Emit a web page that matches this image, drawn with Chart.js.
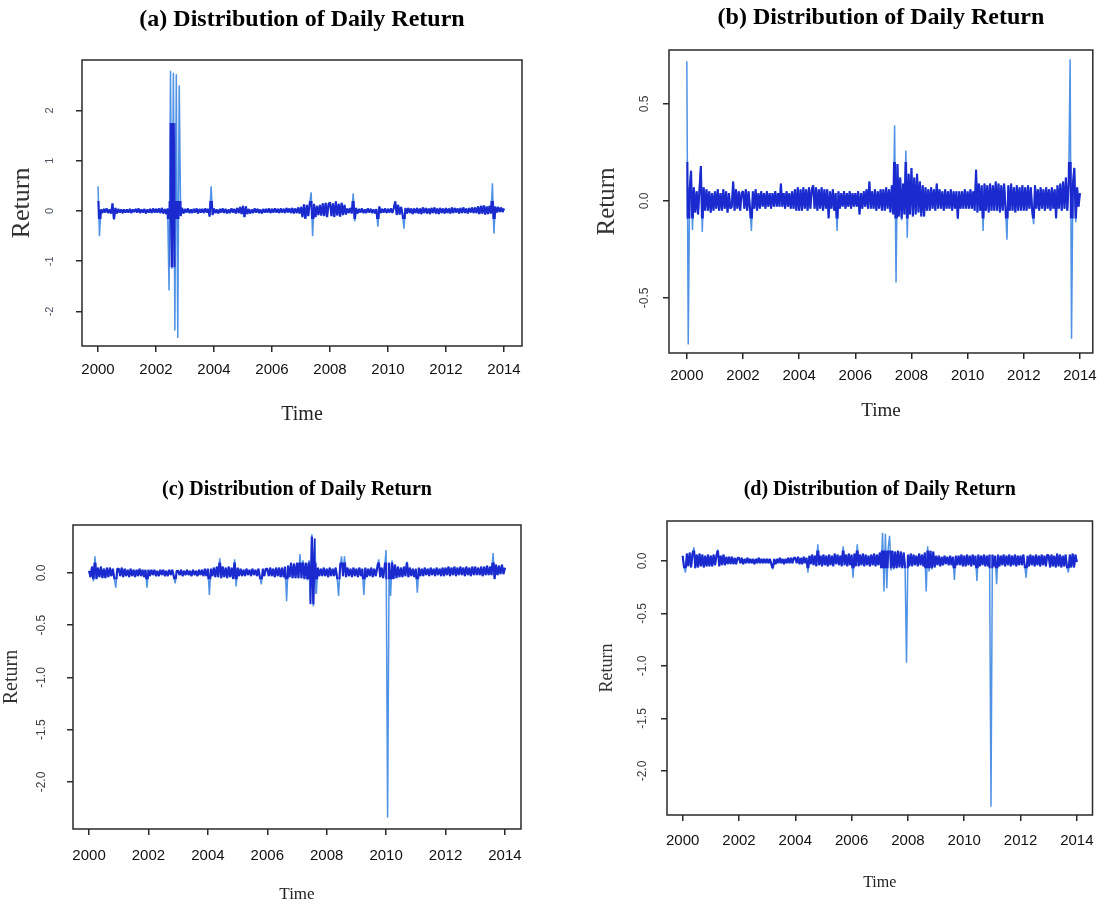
<!DOCTYPE html>
<html><head><meta charset="utf-8">
<script src="https://cdn.jsdelivr.net/npm/chart.js@4/dist/chart.umd.min.js"></script>
<style>
html,body{margin:0;padding:0;background:#fff;}
#wrap{position:relative;width:1105px;height:905px;overflow:hidden;background:#fff;}
canvas{position:absolute;}
</style></head><body>
<div id="wrap">
<canvas id="cA" style="left:0px;top:0px;width:552px;height:440px" width="552" height="440"></canvas>
<canvas id="cB" style="left:552px;top:0px;width:553px;height:440px" width="553" height="440"></canvas>
<canvas id="cC" style="left:0px;top:460px;width:552px;height:445px" width="552" height="445"></canvas>
<canvas id="cD" style="left:552px;top:460px;width:553px;height:445px" width="553" height="445"></canvas>
</div>
<script>
// ---- data (daily return series, sampled 20 observations per year from 2000) ----
const startYear = 2000;
const obsPerYear = 20;
const xTickValues = [2000, 2002, 2004, 2006, 2008, 2010, 2012, 2014];
const xTickLabels = ["2000", "2002", "2004", "2006", "2008", "2010", "2012", "2014"];
const panelTitles = ["(a) Distribution of Daily Return", "(b) Distribution of Daily Return",
                     "(c) Distribution of Daily Return", "(d) Distribution of Daily Return"];
const xAxisTitle = "Time";
const yAxisTitle = "Return";

const returnA = [
 0.49,-0.5,0.03,-0.04,0.04,-0.03,0.05,-0.04,0.03,-0.05,0.15,-0.18,0.06,-0.05,0.04,-0.03,0.03,-0.04,0.03,-0.03,
 0.03,-0.03,0.04,-0.04,0.03,-0.02,0.04,-0.03,0.05,-0.04,0.03,-0.03,0.04,-0.05,0.03,-0.03,0.04,-0.04,0.05,-0.03,
 0.04,-0.03,0.05,-0.04,0.06,-0.05,0.04,-0.06,0.05,-1.58,2.79,-1.15,2.75,-2.38,2.72,-2.53,2.5,-0.1,0.06,-0.05,
 0.04,-0.03,0.05,-0.04,0.03,-0.04,0.04,-0.03,0.05,-0.05,0.04,-0.03,0.04,-0.04,0.05,-0.03,0.04,-0.11,0.49,-0.08,
 0.05,-0.04,0.03,-0.05,0.04,-0.03,0.05,-0.04,0.04,-0.05,0.03,-0.04,0.05,-0.03,0.04,-0.05,0.06,-0.04,0.08,-0.06,
 0.1,-0.12,0.09,-0.06,0.04,-0.05,0.03,-0.04,0.05,-0.03,0.04,-0.04,0.03,-0.05,0.04,-0.03,0.04,-0.03,0.05,-0.04,
 0.04,-0.03,0.05,-0.03,0.04,-0.04,0.05,-0.03,0.04,-0.04,0.06,-0.03,0.05,-0.04,0.06,-0.05,0.05,-0.04,0.07,-0.05,
 0.08,-0.12,0.13,-0.16,0.12,-0.1,0.15,0.37,-0.5,0.14,-0.12,0.1,-0.08,0.12,-0.09,0.15,-0.1,0.16,-0.12,0.14,
 0.17,-0.1,0.15,-0.12,0.19,-0.09,0.14,-0.11,0.16,-0.08,0.12,-0.07,0.05,-0.04,0.06,-0.05,0.35,-0.21,0.06,-0.05,
 0.04,-0.03,0.05,-0.04,0.03,-0.04,0.05,-0.03,0.04,-0.04,0.03,-0.05,0.04,-0.31,0.09,-0.04,0.04,-0.03,0.05,-0.04,
 0.04,-0.03,0.05,-0.04,0.06,0.19,-0.08,0.12,-0.07,0.08,-0.06,-0.35,0.06,-0.05,0.06,-0.04,0.05,-0.06,0.05,-0.04,
 0.06,-0.05,0.05,-0.06,0.07,-0.04,0.06,-0.05,0.05,-0.06,0.06,-0.04,0.07,-0.05,0.05,-0.06,0.06,-0.04,0.05,-0.05,
 0.06,-0.04,0.05,-0.05,0.07,-0.04,0.06,-0.03,0.05,-0.05,0.06,-0.04,0.07,-0.04,0.05,-0.05,0.06,-0.03,0.07,-0.04,
 0.07,-0.04,0.09,-0.06,0.1,-0.05,0.11,-0.07,0.09,-0.06,0.1,-0.05,0.55,-0.45,0.09,-0.03,0.08,-0.02,0.07,-0.02,
 0.05
];
const returnB = [
 0.72,-0.74,0.06,0.155,-0.15,0.07,-0.06,0.05,-0.07,0.06,0.18,-0.16,0.07,-0.05,0.06,-0.05,0.05,-0.06,0.04,-0.05,
 0.05,-0.04,0.06,-0.05,0.04,-0.05,0.06,-0.04,0.05,-0.06,0.04,-0.04,-0.03,0.1,-0.05,0.06,-0.04,0.05,-0.05,0.04,
 0.05,-0.04,0.06,-0.05,0.05,-0.04,-0.155,0.05,-0.04,0.06,-0.05,0.04,-0.04,0.05,-0.03,0.04,-0.04,0.05,-0.03,0.04,
 -0.04,0.04,-0.03,0.05,-0.03,0.04,-0.03,0.09,-0.03,0.04,-0.04,0.05,-0.03,0.04,-0.04,0.05,-0.04,0.06,-0.05,0.07,
 -0.05,0.06,-0.05,0.07,-0.04,0.06,-0.05,0.07,-0.04,0.06,0.08,-0.04,0.07,-0.05,0.06,-0.04,0.07,-0.05,0.06,-0.04,
 0.06,-0.09,0.05,-0.04,0.06,-0.05,0.04,-0.155,0.05,-0.04,0.04,-0.03,0.05,-0.04,0.04,-0.03,0.05,-0.04,0.04,-0.03,
 0.04,-0.03,0.05,-0.07,0.04,-0.04,0.05,-0.03,0.06,-0.04,0.1,-0.04,0.05,-0.04,0.06,-0.05,0.05,-0.04,0.06,-0.05,
 0.06,-0.05,0.07,-0.04,0.06,-0.06,0.08,-0.07,0.39,-0.42,0.19,-0.08,0.12,-0.1,0.09,-0.07,0.26,-0.19,0.14,-0.07,
 0.17,-0.08,0.12,-0.07,0.14,-0.06,0.1,-0.08,0.08,-0.08,0.07,-0.05,0.06,-0.05,0.07,-0.04,0.06,-0.05,0.09,-0.04,
 0.06,-0.04,0.05,-0.05,0.06,-0.04,0.05,-0.04,0.06,-0.05,0.05,-0.04,0.05,-0.094,0.05,-0.04,0.05,-0.04,0.06,-0.04,
 0.05,-0.04,0.06,-0.04,0.05,-0.05,0.16,-0.06,0.09,-0.05,0.08,-0.155,0.09,-0.05,0.08,-0.06,0.09,-0.05,0.08,-0.05,
 0.1,-0.05,0.09,-0.06,0.08,-0.05,0.09,-0.04,-0.2,0.08,-0.05,0.09,-0.05,0.07,-0.06,0.08,-0.05,0.07,-0.05,0.08,
 -0.05,0.07,-0.05,0.08,-0.04,0.07,-0.05,-0.12,0.08,-0.04,0.06,-0.05,0.07,-0.04,0.06,-0.05,0.07,-0.04,0.06,-0.05,
 0.07,-0.04,0.06,-0.09,0.08,-0.04,0.09,-0.05,0.1,-0.04,0.12,-0.05,0.1,0.73,-0.71,0.09,0.17,-0.11,0.07,-0.03,
 0.04
];
const returnC = [
 0.02,-0.04,0.06,-0.08,0.16,-0.06,0.05,-0.04,0.06,-0.05,0.04,-0.05,0.05,-0.04,0.05,-0.03,0.04,-0.05,-0.14,0.04,
 0.04,-0.03,0.05,-0.04,0.04,-0.03,0.03,-0.04,0.04,-0.03,0.03,-0.04,0.03,-0.03,0.04,-0.03,0.03,-0.04,0.03,-0.14,
 0.03,-0.03,0.03,-0.02,0.03,-0.03,0.02,-0.03,0.03,-0.02,0.03,-0.03,0.02,-0.03,0.03,-0.02,0.03,-0.03,-0.1,0.02,
 0.02,-0.02,0.03,-0.03,0.02,-0.02,0.03,-0.02,0.02,-0.03,0.03,-0.02,0.02,-0.03,0.03,-0.02,0.03,-0.03,0.04,-0.03,
 0.04,-0.21,0.04,-0.03,0.05,-0.04,0.06,-0.04,0.14,-0.05,0.06,-0.04,0.05,-0.05,0.06,-0.04,0.05,-0.06,0.13,-0.13,
 0.05,-0.03,0.04,-0.03,0.03,-0.03,0.04,-0.02,0.03,-0.03,0.04,-0.02,0.03,-0.03,0.04,-0.04,-0.11,0.04,-0.03,0.04,
 0.04,-0.03,0.05,-0.03,0.04,-0.04,0.05,-0.03,0.05,-0.04,0.05,-0.04,0.06,-0.27,0.07,-0.04,0.1,-0.05,0.09,-0.05,
 0.1,-0.05,0.18,-0.05,0.12,-0.06,0.1,-0.07,0.12,-0.3,0.37,-0.32,0.33,-0.2,0.05,-0.03,0.04,-0.03,0.05,-0.03,
 0.04,-0.04,0.05,-0.03,0.04,-0.03,0.05,-0.04,-0.22,0.06,0.16,-0.03,0.16,-0.04,0.05,-0.03,0.04,-0.04,0.05,-0.03,
 0.04,-0.04,0.05,-0.03,0.04,-0.21,0.05,-0.04,0.04,-0.03,0.05,-0.04,0.04,-0.03,0.05,0.13,-0.04,0.05,-0.05,0.06,
 0.22,-2.34,0.1,-0.22,0.12,-0.06,0.08,-0.05,0.06,-0.04,0.05,-0.04,0.06,-0.03,0.11,-0.04,0.05,-0.03,0.04,-0.04,
 0.04,-0.19,0.05,-0.03,0.04,-0.03,0.05,-0.02,0.04,-0.03,0.05,-0.02,0.04,-0.03,0.05,-0.02,0.04,-0.03,0.05,-0.03,
 0.05,-0.02,0.06,-0.03,0.05,-0.02,0.06,-0.03,0.05,-0.02,0.06,-0.02,0.05,-0.03,0.06,-0.02,0.05,-0.03,0.06,-0.02,
 0.06,-0.02,0.05,-0.02,0.06,-0.03,0.06,-0.02,0.07,-0.02,0.06,-0.02,0.19,-0.06,0.08,-0.02,0.07,-0.01,0.08,-0.01,
 0.05
];
const returnD = [
 0.05,-0.06,-0.11,0.07,-0.05,0.08,-0.06,0.07,0.13,-0.07,0.06,-0.06,0.07,-0.05,0.06,-0.06,0.05,-0.05,0.06,-0.05,
 0.05,-0.05,0.06,-0.04,0.05,0.11,-0.05,0.05,-0.04,0.06,-0.04,0.04,-0.03,0.04,-0.03,0.04,-0.03,0.03,-0.03,0.03,
 0.03,-0.02,0.03,-0.03,0.02,-0.02,0.03,-0.02,0.02,-0.02,0.02,-0.03,0.02,-0.02,0.03,-0.02,0.02,-0.02,0.02,-0.02,
 0.02,-0.02,0.02,-0.03,-0.08,0.02,-0.03,0.02,-0.02,0.03,-0.02,0.02,-0.03,0.02,-0.02,0.03,-0.02,0.03,-0.02,0.03,
 0.03,-0.02,0.04,-0.03,0.03,-0.03,0.04,-0.02,0.03,-0.11,0.05,-0.03,0.06,-0.04,0.05,-0.05,0.16,-0.04,0.05,-0.05,
 0.06,-0.04,0.05,-0.05,0.06,-0.04,0.05,-0.05,0.07,-0.03,0.06,-0.04,0.05,-0.05,0.14,-0.04,0.06,-0.05,0.07,-0.04,
 0.06,-0.16,0.07,-0.05,0.16,-0.05,0.06,-0.04,0.07,-0.05,0.06,-0.04,0.05,-0.05,0.06,-0.04,0.07,-0.05,0.06,-0.04,
 0.08,-0.07,0.27,-0.29,0.26,-0.26,0.12,0.24,-0.09,0.1,-0.08,0.09,-0.07,0.1,-0.06,0.09,-0.07,0.08,-0.06,-0.97,
 0.06,-0.05,0.07,-0.05,0.06,-0.04,0.05,-0.05,0.07,-0.04,0.06,-0.05,0.08,-0.29,0.14,-0.1,0.1,-0.08,0.09,-0.06,
 0.05,-0.04,0.05,-0.05,0.04,-0.04,0.05,-0.03,0.04,-0.04,0.05,-0.04,0.04,-0.18,0.05,-0.04,0.05,-0.04,0.06,-0.05,
 0.05,-0.05,0.06,-0.04,0.05,-0.05,0.06,-0.04,0.05,-0.19,0.06,-0.05,0.05,-0.04,0.06,-0.05,0.05,-0.05,0.06,-2.34,
 0.06,-0.05,0.05,-0.22,0.06,-0.05,0.05,-0.04,0.06,-0.05,0.05,-0.04,0.06,-0.05,0.05,-0.04,0.06,-0.05,0.05,-0.04,
 0.05,-0.04,0.06,-0.05,-0.16,0.05,-0.05,0.06,-0.04,0.05,-0.05,0.06,-0.04,0.05,-0.05,0.06,-0.04,0.05,-0.05,0.06,
 0.05,-0.06,0.06,-0.05,0.05,-0.06,0.07,-0.05,0.06,-0.06,0.05,-0.05,0.06,-0.06,-0.11,0.06,-0.06,0.07,-0.06,0.06,
 -0.01
];

const yTicksA = [-2, -1, 0, 1, 2];
const yTickLabelsA = ["-2", "-1", "0", "1", "2"];
const yTicksB = [-0.5, 0, 0.5];
const yTickLabelsB = ["-0.5", "0.0", "0.5"];
const yTicksC = [-2, -1.5, -1, -0.5, 0];
const yTickLabelsC = ["-2.0", "-1.5", "-1.0", "-0.5", "0.0"];
const yTicksD = [-2, -1.5, -1, -0.5, 0];
const yTickLabelsD = ["-2.0", "-1.5", "-1.0", "-0.5", "0.0"];

// ---- styling ----
const DARK = '#1a2acf';
const LIGHT = '#4f92e6';

function makePlugin(bands) {
  return {
    id: 'frameAndBands',
    beforeDatasetDraw(chart, args) {
      if (args.index !== 0) return;
      const ctx = chart.ctx, a = chart.chartArea, xs = chart.scales.x, ys = chart.scales.y;
      ctx.save();
      ctx.beginPath();
      for (const b of bands) {
        const x0 = b.xMin === undefined ? a.left : xs.getPixelForValue(b.xMin);
        const x1 = b.xMax === undefined ? a.right : xs.getPixelForValue(b.xMax);
        const y0 = ys.getPixelForValue(b.yMax), y1 = ys.getPixelForValue(b.yMin);
        ctx.rect(x0, y0, x1 - x0, y1 - y0);
      }
      ctx.clip();
    },
    afterDatasetDraw(chart, args) {
      if (args.index === 0) chart.ctx.restore();
    },
    afterDraw(chart) {
      const ctx = chart.ctx, a = chart.chartArea;
      ctx.save();
      ctx.strokeStyle = '#2a2a2a';
      ctx.lineWidth = 1.5;
      ctx.strokeRect(a.left, a.top, a.right - a.left, a.bottom - a.top);
      ctx.restore();
    }
  };
}

function makeChart(id, s) {
  const pts = s.values.map((v, i) => ({x: startYear + i / obsPerYear, y: v}));
  return new Chart(document.getElementById(id), {
    type: 'line',
    data: {datasets: [
      {label: yAxisTitle, data: pts, borderColor: DARK, borderWidth: 2.1, borderJoinStyle: 'bevel', pointRadius: 0, tension: 0},
      {label: yAxisTitle, data: pts, borderColor: LIGHT, borderWidth: 1.5, borderJoinStyle: 'bevel', pointRadius: 0, tension: 0}
    ]},
    options: {
      responsive: false, animation: false, events: [],
      layout: {padding: {left: 0, right: s.padRight, top: 0, bottom: 0}},
      plugins: {
        legend: {display: false}, tooltip: {enabled: false},
        title: {display: true, text: s.title, fullSize: false, color: '#000',
                font: {family: 'Liberation Serif', size: s.titleSize, weight: 'bold'},
                padding: {top: s.titlePadTop, bottom: s.titlePadBottom}}
      },
      scales: {
        x: {
          type: 'linear', min: s.xMin, max: s.xMax,
          afterBuildTicks: ax => { ax.ticks = xTickValues.map(v => ({value: v})); },
          afterFit: ax => { ax.height = s.xAxisHeight; },
          ticks: {autoSkip: false, maxRotation: 0, minRotation: 0, padding: s.xTickPad, color: '#111',
                  font: {family: 'Liberation Sans', size: 15},
                  callback: (v, i) => xTickLabels[i]},
          grid: {display: true, drawOnChartArea: false, drawTicks: true, tickLength: 6, color: '#2a2a2a', lineWidth: 1.5},
          border: {display: false},
          title: {display: true, text: xAxisTitle, color: '#222',
                  font: {family: 'Liberation Serif', size: s.timeSize},
                  padding: {top: 0, bottom: s.timePadBottom}}
        },
        y: {
          type: 'linear', min: s.yMin, max: s.yMax,
          afterBuildTicks: ax => { ax.ticks = s.yTicks.map(v => ({value: v})); },
          afterFit: ax => { ax.width = s.yAxisWidth; },
          ticks: {autoSkip: false, minRotation: 90, maxRotation: 90, crossAlign: 'center',
                  padding: s.yTickPad, color: s.yTickColor,
                  font: {family: 'Liberation Sans', size: s.yTickSize},
                  callback: (v, i) => s.yTickLabels[i]},
          grid: {display: true, drawOnChartArea: false, drawTicks: true, tickLength: 6, color: '#2a2a2a', lineWidth: 1.5},
          border: {display: false},
          title: {display: true, text: yAxisTitle, color: '#333',
                  font: {family: 'Liberation Serif', size: s.returnSize},
                  padding: {top: s.returnPadTop, bottom: 0}}
        }
      }
    },
    plugins: [makePlugin(s.bands)]
  });
}

makeChart('cA', {
  values: returnA, title: panelTitles[0], titleSize: 24, titlePadTop: 5.6, titlePadBottom: 25.6,
  padRight: 30, xMin: 1999.448, xMax: 2014.62, yMin: -2.687, yMax: 3.005,
  xAxisHeight: 94, xTickPad: 9, timeSize: 20, timePadBottom: 13,
  yAxisWidth: 82, yTicks: yTicksA, yTickLabels: yTickLabelsA, yTickPad: 21, yTickSize: 11, yTickColor: '#4b5263',
  returnSize: 26, returnPadTop: 7,
  bands: [{yMin: -0.16, yMax: 0.2}, {xMin: 2002.47, xMax: 2002.67, yMin: -1.12, yMax: 1.75}]
});
makeChart('cB', {
  values: returnB, title: panelTitles[1], titleSize: 24, titlePadTop: 3.6, titlePadBottom: 17.6,
  padRight: 8, xMin: 1999.365, xMax: 2014.458, yMin: -0.784, yMax: 0.778,
  xAxisHeight: 87, xTickPad: 8, timeSize: 19, timePadBottom: 17.6,
  yAxisWidth: 117, yTicks: yTicksB, yTickLabels: yTickLabelsB, yTickPad: 7.7, yTickSize: 12, yTickColor: '#3c3c3c',
  returnSize: 25, returnPadTop: 40,
  bands: [{yMin: -0.09, yMax: 0.2}]
});
makeChart('cC', {
  values: returnC, title: panelTitles[2], titleSize: 20, titlePadTop: 18, titlePadBottom: 23,
  padRight: 31, xMin: 1999.46, xMax: 2014.54, yMin: -2.45, yMax: 0.459,
  xAxisHeight: 76, xTickPad: 12, timeSize: 17, timePadBottom: 0,
  yAxisWidth: 73, yTicks: yTicksC, yTickLabels: yTickLabelsC, yTickPad: 14.7, yTickSize: 12, yTickColor: '#3c3c3c',
  returnSize: 20, returnPadTop: 0,
  bands: [{yMin: -0.06, yMax: 0.1}, {xMin: 2007.42, xMax: 2007.62, yMin: -0.3, yMax: 0.35}]
});
makeChart('cD', {
  values: returnD, title: panelTitles[3], titleSize: 20, titlePadTop: 18, titlePadBottom: 19,
  padRight: 3, xMin: 1999.444, xMax: 2014.556, yMin: -2.419, yMax: 0.381,
  xAxisHeight: 90, xTickPad: 11, timeSize: 16, timePadBottom: 12.4,
  yAxisWidth: 115, yTicks: yTicksD, yTickLabels: yTickLabelsD, yTickPad: 7.7, yTickSize: 12, yTickColor: '#3c3c3c',
  returnSize: 18, returnPadTop: 44,
  bands: [{yMin: -0.07, yMax: 0.1}]
});
</script>
</body></html>
